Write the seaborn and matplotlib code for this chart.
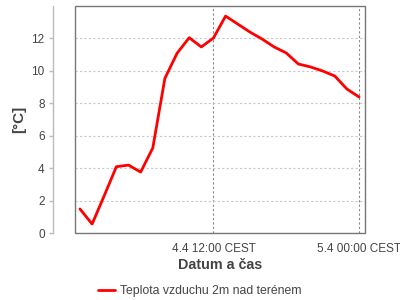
import matplotlib
matplotlib.use("Agg")
import matplotlib.pyplot as plt
import seaborn as sns
import pandas as pd
from matplotlib.patches import Rectangle

# hours since 4.4 00:00 CEST
hours = [1, 2, 3, 4, 5, 6, 7, 8, 9, 10, 11, 12, 13, 14, 15, 16, 17, 18, 19, 20, 21, 22, 23, 24]
temps = [1.48, 0.55, 2.3, 4.08, 4.18, 3.75, 5.23, 9.52, 11.06, 12.02, 11.45, 12.0,
         13.35, 12.86, 12.37, 11.94, 11.45, 11.08, 10.4, 10.22, 9.97, 9.66, 8.86, 8.37]
series_name = "Teplota vzduchu 2m nad terénem"
x_ticks = [12, 24]
x_tick_labels = ["4.4 12:00 CEST", "5.4 00:00 CEST"]
y_ticks = [0, 2, 4, 6, 8, 10, 12]

df = pd.DataFrame({"hour": hours, "temp": temps, "series": series_name})

sns.set_style("white")
plt.rcParams['font.family'] = ['Liberation Sans', 'DejaVu Sans']
txt = "#444444"

fig = plt.figure(figsize=(4, 3), dpi=100)
ax = fig.add_axes([75/400, 1 - 233/300, 290/400, 227/300])

sns.lineplot(data=df, x="hour", y="temp", hue="series", palette=["#ff0000"],
             linewidth=2, ax=ax, legend=True)

ax.set_xlim(0.59, 24.49)
ax.set_ylim(0, 13.97)
ax.set_xticks(x_ticks)
ax.set_xticklabels(x_tick_labels)
ax.set_yticks(y_ticks)

ax.grid(axis="y", color="#c8c8c8", linestyle=(0, (2, 2)), linewidth=0.8)
ax.grid(axis="x", color="#888888", linestyle=(0, (2, 2)), linewidth=0.8)
ax.set_axisbelow(True)

for s in ["top", "right", "bottom"]:
    ax.spines[s].set_visible(False)
ax.spines["left"].set_position(("outward", 22 * 72 / 100))
ax.spines["left"].set_color("#bbbbbb")
ax.spines["left"].set_linewidth(1)
ax.add_patch(Rectangle((0, 0), 1, 1, transform=ax.transAxes, fill=False,
                       edgecolor="#777777", linewidth=1.0, clip_on=False, zorder=5))

ax.tick_params(axis="y", which="both", left=True, length=3, width=1, color="#bbbbbb",
               labelsize=8.5, labelcolor=txt, pad=3)
ax.tick_params(axis="x", which="both", bottom=False, labelsize=8.5, labelcolor=txt, pad=4)

ax.set_xlabel("Datum a čas", fontsize=10.3, fontweight="bold", color=txt, labelpad=2)
ax.set_ylabel("[°C]", fontsize=11, fontweight="bold", color=txt, labelpad=4)

leg = ax.legend(loc="upper center", bbox_to_anchor=(0.43, -0.18), frameon=False,
                fontsize=8.8, handlelength=1.4, handletextpad=0.4)
for t in leg.get_texts():
    t.set_color(txt)

fig.savefig("out.png", dpi=100)
